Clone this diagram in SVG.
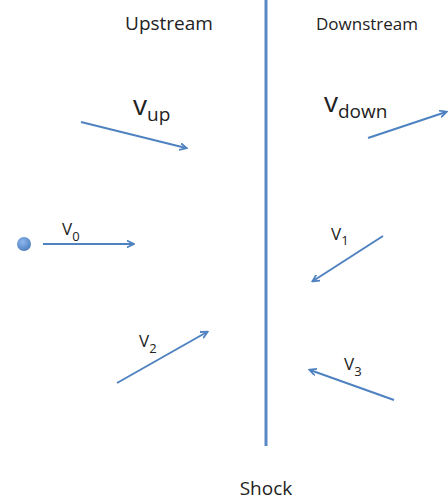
<svg xmlns="http://www.w3.org/2000/svg" width="448" height="501" viewBox="0 0 448 501">
<style>
.t{font-family:"Open Sans","Liberation Sans",sans-serif;fill:#222}
.hdr{font-size:19px}
.hdr2{font-size:17px}
.lbl{font-size:17px}
.big{font-size:28px}
.sub{font-size:13px}
.subb{font-size:19px}
.arr{stroke:#4f82c0;stroke-width:2;fill:none;marker-end:url(#ah)}
</style>
<defs>
<marker id="ah" viewBox="0 0 10 10" refX="8" refY="5" markerWidth="8" markerHeight="8" orient="auto" markerUnits="userSpaceOnUse">
<path d="M0,0.5 L9,5 L0,9.5" fill="none" stroke="#4f82c0" stroke-width="2.2"/>
</marker>
<radialGradient id="dot" cx="40%" cy="35%" r="70%">
<stop offset="0" stop-color="#8fb6ef"/>
<stop offset="1" stop-color="#4a7ebb"/>
</radialGradient>
</defs>
<g id="shock">
<line x1="266" y1="0" x2="266" y2="446" stroke="#5a88c4" stroke-width="3"/>
<text class="t hdr" x="266" y="495" text-anchor="middle">Shock</text>
</g>
<g id="upstream"><text class="t hdr" x="169" y="30" text-anchor="middle">Upstream</text></g>
<g id="downstream"><text class="t hdr2" x="316" y="30">Downstream</text></g>
<g id="particle"><circle cx="24" cy="244" r="7" fill="url(#dot)"/></g>
<g id="connectors">
<line class="arr" x1="81" y1="122" x2="186" y2="148"/>
<line class="arr" x1="368" y1="138" x2="446" y2="112"/>
<line class="arr" x1="43" y1="244" x2="133" y2="244"/>
<line class="arr" x1="383" y1="236" x2="313" y2="281"/>
<line class="arr" x1="117" y1="383" x2="207" y2="332"/>
<line class="arr" x1="394" y1="400" x2="310" y2="370"/>
</g>
<g id="label-vup"><text class="t big" x="133" y="115">v<tspan class="subb" dy="6">up</tspan></text></g>
<g id="label-vdown"><text class="t big" x="324" y="112">v<tspan class="subb" dy="6">down</tspan></text></g>
<g id="label-v0"><text class="t lbl" x="62" y="235">V<tspan class="sub" dy="6">0</tspan></text></g>
<g id="label-v1"><text class="t lbl" x="331" y="240">V<tspan class="sub" dy="5">1</tspan></text></g>
<g id="label-v2"><text class="t lbl" x="139" y="347">V<tspan class="sub" dy="6">2</tspan></text></g>
<g id="label-v3"><text class="t lbl" x="344" y="370">V<tspan class="sub" dy="6">3</tspan></text></g>
</svg>
